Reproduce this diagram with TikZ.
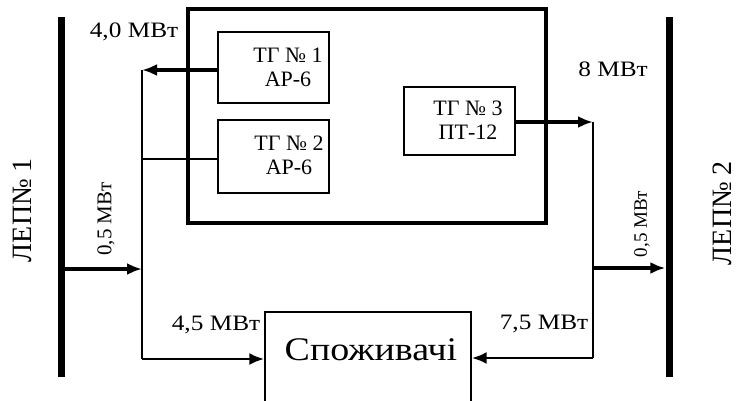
\documentclass[tikz,border=0pt]{standalone}
\usepackage{fontspec}
\setmainfont{Liberation Serif}
\newfontfamily\wideserif[FakeStretch=1.15]{Liberation Serif}
\usetikzlibrary{arrows.meta}
\begin{document}
\begin{tikzpicture}[x=1pt,y=-1pt,
  unitbox/.style={draw, line width=1.3pt, inner sep=0pt},
  lbl/.style={font=\wideserif\fontsize{22}{24}\selectfont, inner sep=0pt},
  tglbl/.style={font=\fontsize{22}{24}\selectfont, align=center, inner sep=0pt},
  buslbl/.style={font=\fontsize{28}{30}\selectfont, inner sep=0pt, rotate=90},
  bus/.style={fill=black, inner sep=0pt, minimum width=7pt, minimum height=360pt},
  heavy/.style={line width=4pt, -{Latex[length=15pt,width=12pt]}},
  medium/.style={line width=2.8pt, -{Latex[length=15pt,width=12pt]}},
  thinline/.style={line width=1.3pt},
]
\clip (0,0) rectangle (736,400);
\fill[white] (0,0) rectangle (736,400);

% transmission lines (buses)
\node[bus] (bus1) at (61,197) {};
\node[bus] (bus2) at (669,197) {};
\node[buslbl] (bus1t) at (22,210) {ЛЕП№ 1};
\node[buslbl] (bus2t) at (722,213) {ЛЕП№ 2};

% power plant enclosure
\node[draw, line width=3.5pt, inner sep=0pt, minimum width=358pt, minimum height=214pt] (plant) at (367,116) {};

% turbine generators
\node[unitbox, minimum width=111pt, minimum height=71pt] (tg1) at (273.5,67.5) {};
\node[tglbl] (tg1t) at (288,67) {ТГ № 1\\АР-6};
\node[unitbox, minimum width=111pt, minimum height=73pt] (tg2) at (273.5,156.5) {};
\node[tglbl] (tg2t) at (289,155) {ТГ № 2\\АР-6};
\node[unitbox, minimum width=111pt, minimum height=68pt] (tg3) at (459.5,121) {};
\node[tglbl] (tg3t) at (468,120) {ТГ № 3\\ПТ-12};

% consumers
\node[unitbox, minimum width=206pt, minimum height=120pt] (cons) at (368,372) {};
\node[font=\wideserif\fontsize{33}{35}\selectfont, inner sep=0pt] (const) at (371,350) {Споживачі};

% junction points
\coordinate (jl1) at (142,70);
\coordinate (jl2) at (142,159);
\coordinate (jl3) at (142,269);
\coordinate (jl4) at (142,359);
\coordinate (jr1) at (593,122);
\coordinate (jr2) at (593,268);
\coordinate (jr3) at (593,358);

% left side
\draw[thinline] (jl1) -- (jl4);
\draw[heavy] (tg1.west |- jl1) -- (jl1);
\draw[thinline] (tg2.west |- jl2) -- (jl2);
\draw[heavy] (bus1.east |- jl3) -- (jl3);
\draw[medium] (jl4) -- (cons.west |- jl4);

% right side
\draw[thinline] (jr1) -- (jr3);
\draw[heavy] (tg3.east |- jr1) -- (jr1);
\draw[heavy] (jr2) -- (bus2.west |- jr2);
\draw[medium] (jr3) -- (cons.east |- jr3);

% power flow labels
\node[lbl] (p1) at (134,32) {4,0 МВт};
\node[lbl] (p2) at (613,69) {8 МВт};
\node[lbl] (p3) at (216,325) {4,5 МВт};
\node[lbl] (p4) at (544,324) {7,5 МВт};
\node[lbl, rotate=90, font=\fontsize{21}{23}\selectfont] (p5) at (106,219) {0,5 МВт};
\node[lbl, rotate=90, font=\fontsize{19}{21}\selectfont] (p6) at (642,224) {0,5 МВт};
\end{tikzpicture}
\end{document}
